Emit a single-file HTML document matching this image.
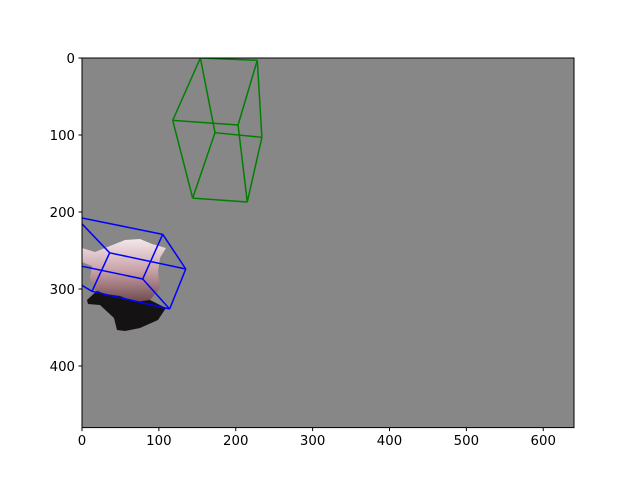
<!DOCTYPE html>
<html><head><meta charset="utf-8"><style>
html,body{margin:0;padding:0;background:#fff;}
svg{display:block;font-family:"DejaVu Sans","Liberation Sans",sans-serif;}
</style></head><body>
<svg id="chart" width="640" height="480" viewBox="0 0 640 480" xmlns="http://www.w3.org/2000/svg">
<defs><clipPath id="clip"><rect x="82" y="58" width="492" height="369.6"/></clipPath>
<linearGradient id="skin" x1="0" y1="0" x2="0" y2="1"><stop offset="0" stop-color="#f4e8ec"/><stop offset="0.5" stop-color="#c9a2a8"/><stop offset="1" stop-color="#6e4a4e"/></linearGradient></defs>
<rect x="82" y="58" width="492" height="369.6" fill="#878787"/>
<g clip-path="url(#clip)">
<path d="M87,300 L100,288 L130,292 L150,300 L166,308 L158,320 L140,328 L125,331 L117,330 L114,318 L100,305 L88,304 Z" fill="#141212"/>
<path d="M82,248 L95,252 L110,246 L125,240 L140,239 L152,244 L166,248 L160,258 L158,272 L160,288 L150,300 L135,302 L120,296 L105,294 L95,290 L90,278 L92,266 L82,262 Z" fill="url(#skin)"/>
</g>
<g id="boxes" clip-path="url(#clip)"></g>
<rect x="82" y="58" width="492" height="369.6" fill="none" stroke="#000" stroke-width="1"/>
<g id="ticks"></g>
</svg>
<script>
const xTicks = [0,100,200,300,400,500,600];
const yTicks = [0,100,200,300,400];
const greenBoxX = [154,228,118,203,173,234,144,215];
const greenBoxY = [0,3,81,87,97,103,182,187];
const blueBoxX = [-9,105,135,114,36,13,79,-64];
const blueBoxY = [206,229,274,326,253,303,287,257];
const greenEdges = [[0,1],[1,5],[5,4],[4,0],[2,3],[3,7],[7,6],[6,2],[0,2],[1,3],[4,6],[5,7]];
const blueEdges = [[0,1],[0,4],[0,7],[7,6],[7,5],[1,2],[1,6],[2,3],[2,4],[3,6],[3,5],[4,5]];
const X0=82, Y0=58, SX=492/640, SY=369.6/480;
const sx = v => X0 + v*SX;
const sy = v => Y0 + v*SY;
const NS="http://www.w3.org/2000/svg";
const boxes=document.getElementById('boxes');
function drawBox(xs, ys, edges, color, name){
  edges.forEach((e,i)=>{
    const l=document.createElementNS(NS,'line');
    l.setAttribute('x1',sx(xs[e[0]]));l.setAttribute('y1',sy(ys[e[0]]));
    l.setAttribute('x2',sx(xs[e[1]]));l.setAttribute('y2',sy(ys[e[1]]));
    l.setAttribute('stroke',color);l.setAttribute('stroke-width','1.5');
    
    
    boxes.appendChild(l);
  });
}
drawBox(greenBoxX, greenBoxY, greenEdges, '#008000', 'green-box-edge');
drawBox(blueBoxX, blueBoxY, blueEdges, '#0000ff', 'blue-box-edge');
const tg=document.getElementById('ticks');
xTicks.forEach(t=>{
  const l=document.createElementNS(NS,'line');
  l.setAttribute('x1',sx(t));l.setAttribute('x2',sx(t));l.setAttribute('y1',427.6);l.setAttribute('y2',431.1);l.setAttribute('stroke','#000');
  
  
  tg.appendChild(l);
  const tx=document.createElementNS(NS,'text');
  tx.setAttribute('x',sx(t));tx.setAttribute('y',445);tx.setAttribute('text-anchor','middle');tx.setAttribute('font-size','13.3');
  tx.textContent=t;
  
  
  tg.appendChild(tx);
});
yTicks.forEach(t=>{
  const l=document.createElementNS(NS,'line');
  l.setAttribute('x1',78.5);l.setAttribute('x2',82);l.setAttribute('y1',sy(t));l.setAttribute('y2',sy(t));l.setAttribute('stroke','#000');
  
  
  tg.appendChild(l);
  const tx=document.createElementNS(NS,'text');
  tx.setAttribute('x',75);tx.setAttribute('y',sy(t)+4.8);tx.setAttribute('text-anchor','end');tx.setAttribute('font-size','13.3');
  tx.textContent=t;
  
  
  tg.appendChild(tx);
});
</script>
</body></html>
